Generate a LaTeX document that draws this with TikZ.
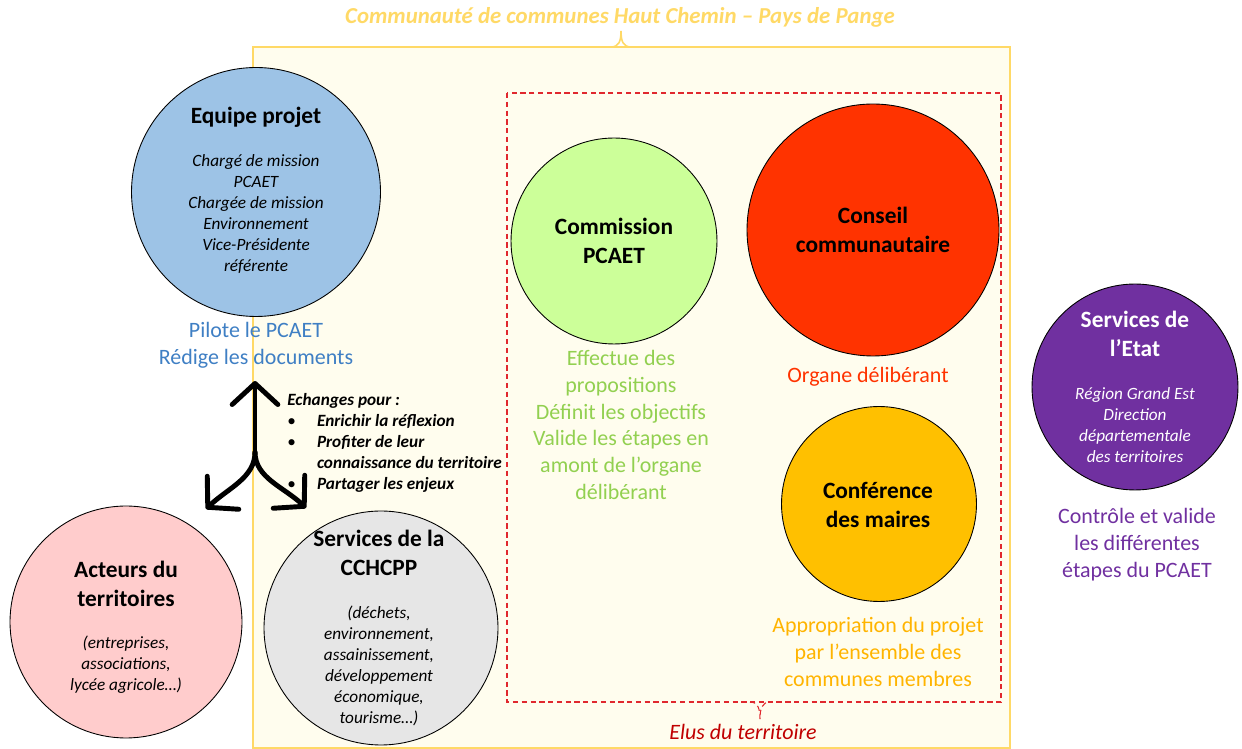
\documentclass[tikz,border=0pt]{standalone}
\usepackage{fontspec}
\setmainfont{Carlito}
\usetikzlibrary{arrows.meta}

\definecolor{boxfill}{HTML}{FFFDEE}
\definecolor{boxline}{HTML}{FFD966}
\definecolor{eluline}{HTML}{E0282E}
\definecolor{elutext}{HTML}{C00000}
\definecolor{equipefill}{HTML}{9DC3E6}
\definecolor{equipetext}{HTML}{3F7FC4}
\definecolor{commfill}{HTML}{CCFF99}
\definecolor{commtext}{HTML}{92D050}
\definecolor{conseilfill}{HTML}{FF3300}
\definecolor{mairesfill}{HTML}{FFC000}
\definecolor{mairestext}{HTML}{FFB400}
\definecolor{etatfill}{HTML}{7030A0}
\definecolor{acteursfill}{HTML}{FFCCCC}
\definecolor{servicesfill}{HTML}{E6E6E6}

\begin{document}
\begin{tikzpicture}[x=0.02cm, y=-0.02cm,
  bubble/.style={circle, draw=black, line width=0.5pt, inner sep=0pt},
  ttl/.style={font=\fontsize{13.3}{16.3}\selectfont\bfseries, align=center, inner sep=0pt},
  body/.style={font=\fontsize{9.8}{12}\selectfont\itshape, align=center, inner sep=0pt},
  note/.style={font=\fontsize{12.5}{15.3}\selectfont, align=center, inner sep=0pt},
  elusline/.style={eluline, line width=0.6pt, dash pattern=on 3pt off 2pt},
  xchg/.style={line width=2.8pt, line cap=round, -{Straight Barb[length=12pt, width=26pt, round]}}]

\useasboundingbox (0,0) rectangle (1242,749);

% communaute de communes
\draw[boxline, fill=boxfill, line width=0.9pt] (253,47) rectangle (1010,748);
\coordinate (cc-tip) at (621,31);
\draw[boxline, line width=0.9pt] (611,47) .. controls (619,47) and (621,41) .. (cc-tip)
  .. controls (621,41) and (623,47) .. (631,47);
\node[font=\fontsize{13}{15}\selectfont\bfseries\itshape, text=boxline] (cc) at (620,17)
  {Communauté de communes Haut Chemin – Pays de Pange};

% elus
\draw[elusline] (507,93) rectangle (1001,702);
\coordinate (elus-tip) at (760,719);
\draw[elusline] (750,702) .. controls (758,702) and (760,709) .. (elus-tip)
  .. controls (760,709) and (762,702) .. (770,702);
\node[font=\fontsize{12.5}{15}\selectfont\itshape, text=elutext] (elus) at (743,732) {Elus du territoire};

\node[bubble, fill=equipefill, minimum size=4.98cm] (equipe) at (256,192) {};
\node[ttl] (equipe-ttl) at (256,117) {Equipe projet};
\node[body] (equipe-txt) at (256,214) {Chargé de mission\\PCAET\\Chargée de mission\\Environnement\\Vice-Présidente\\référente};
\node[note, text=equipetext] (equipe-note) at (256,345) {Pilote le PCAET\\Rédige les documents};

\node[bubble, fill=commfill, minimum size=4.12cm] (comm) at (614,241) {};
\node[ttl] (comm-ttl) at (614,241) {Commission\\PCAET};
\node[note, text=commtext] (comm-note) at (621,425) {Effectue des\\propositions\\Définit les objectifs\\Valide les étapes en\\amont de l’organe\\délibérant};

\node[bubble, fill=conseilfill, minimum size=5.04cm] (conseil) at (873,230) {};
\node[ttl] (conseil-ttl) at (873,230) {Conseil\\communautaire};
\node[note, text=conseilfill] (conseil-note) at (868,377) {Organe délibérant};

\node[bubble, fill=mairesfill, minimum size=3.9cm] (maires) at (879,504) {};
\node[ttl] (maires-ttl) at (878,505) {Conférence\\des maires};
\node[note, text=mairestext] (maires-note) at (878,652) {Appropriation du projet\\par l’ensemble des\\communes membres};

\node[bubble, fill=etatfill, minimum size=4.12cm] (etat) at (1135,387) {};
\node[ttl, text=white] (etat-ttl) at (1135,334) {Services de\\l’Etat};
\node[body, text=white] (etat-txt) at (1135,425) {Région Grand Est\\Direction\\départementale\\des territoires};
\node[note, text=etatfill] (etat-note) at (1137,545) {Contrôle et valide\\les différentes\\étapes du PCAET};

\node[bubble, fill=acteursfill, minimum size=4.64cm] (acteurs) at (126,622) {};
\node[ttl] (acteurs-ttl) at (126,584) {Acteurs du\\territoires};
\node[body] (acteurs-txt) at (126,665) {(entreprises,\\associations,\\lycée agricole…)};

\node[bubble, fill=servicesfill, minimum size=4.68cm] (services) at (381,628) {};
\node[ttl] (services-ttl) at (379,553) {Services de la\\CCHCPP};
\node[body] (services-txt) at (379,666) {(déchets,\\environnement,\\assainissement,\\développement\\économique,\\tourisme…)};

\node[anchor=north west, inner sep=0pt, font=\fontsize{9.8}{12}\selectfont\bfseries\itshape] (echanges) at (287,390)
  {\begin{tabular}{@{}l@{\hspace{12pt}}l@{}}
   \multicolumn{2}{@{}l}{Echanges pour :}\\
   {\normalfont\textbullet} & Enrichir la réflexion\\
   {\normalfont\textbullet} & Profiter de leur\\
   & connaissance du territoire\\
   {\normalfont\textbullet} & Partager les enjeux
   \end{tabular}};

\coordinate (fork) at (255,452);
\coordinate (up-tip) at (255,381);
\coordinate (left-tip) at (206,509);
\coordinate (right-tip) at (306,508);
\draw[xchg] (fork) -- (up-tip);
\draw[xchg] (fork) .. controls (255,478) and (228,488) .. (left-tip);
\draw[xchg] (fork) .. controls (255,478) and (284,487) .. (right-tip);
\end{tikzpicture}
\end{document}
